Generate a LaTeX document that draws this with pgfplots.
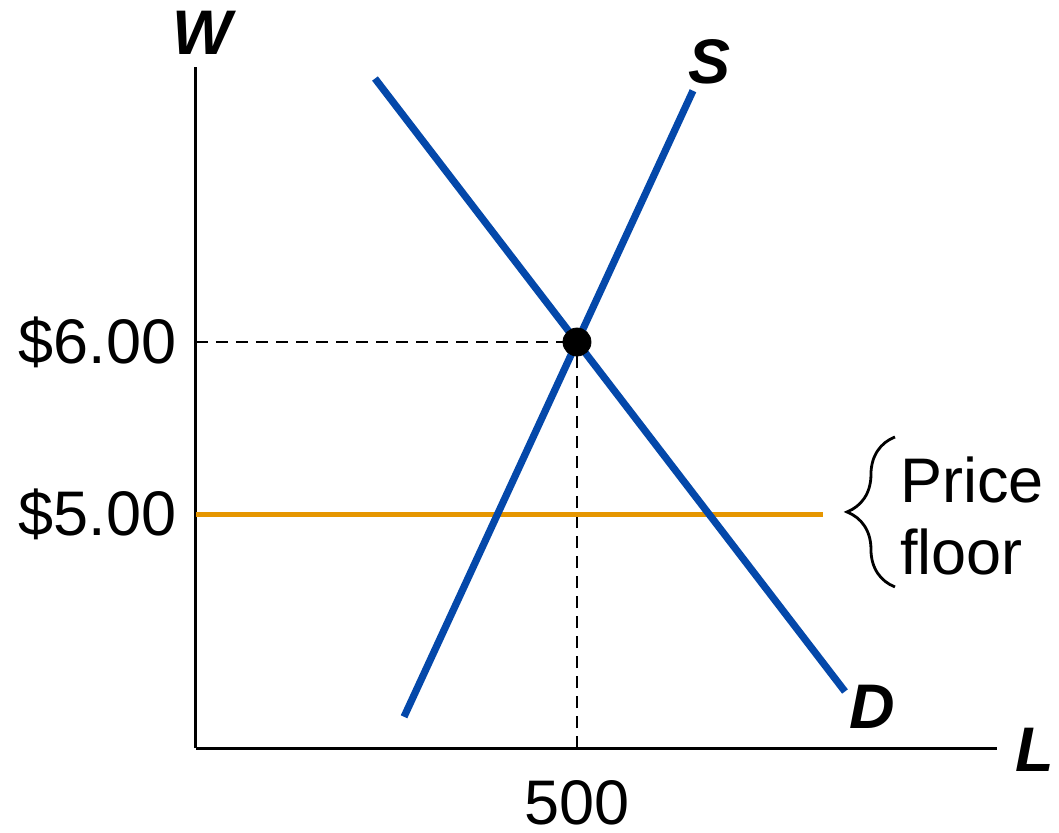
\documentclass[border=0pt]{standalone}
\usepackage{pgfplots}
\pgfplotsset{compat=1.18}
\usepackage{fontspec}
\setmainfont{Liberation Sans}
\usetikzlibrary{decorations.pathreplacing}
\definecolor{curveblue}{RGB}{4,72,170}
\definecolor{floororange}{RGB}{230,150,0}
\begin{document}
\begin{tikzpicture}
\useasboundingbox (-98pt,-42pt) rectangle (431.5pt,374pt);
\begin{axis}[
  scale only axis,
  width=400.5pt, height=340.5pt,
  xmin=0, xmax=1051.2,
  ymin=3.6395, ymax=7.599,
  axis lines=left,
  axis line style={-, line width=1.5pt, black},
  clip=false,
  xtick={500}, xticklabels={500},
  ytick={5,6}, yticklabels={\$5.00,\$6.00},
  major tick length=0pt,
  tick style={draw=none},
  ticklabel style={font=\fontsize{31.5}{37}\selectfont, inner sep=0pt},
  yticklabel style={xshift=-9.5pt},
  xticklabel style={yshift=-16pt},
]
% reference lines at the equilibrium
\addplot[black, line width=1pt, dash pattern=on 6pt off 4pt] coordinates {(0,6) (500,6)};
\addplot[black, line width=1pt, dash pattern=on 6pt off 4pt] coordinates {(500,3.6395) (500,6)};
% price floor
\addplot[floororange, line width=2.5pt] coordinates {(0,5) (822.8,5)};
% demand and supply
\addplot[curveblue, line width=3.6pt] coordinates {(234.9,7.532) (851.7,3.968)};
\addplot[curveblue, line width=3.6pt] coordinates {(273,3.821) (652.2,7.461)};
% equilibrium point
\addplot[only marks, mark=*, mark size=7pt, black] coordinates {(500,6)};
% labels
\node[font=\fontsize{31.5}{37}\selectfont\bfseries\itshape] at (axis cs:674.5,7.628) {S};
\node[font=\fontsize{31.5}{37}\selectfont\bfseries\itshape] at (axis cs:887.1,3.878) {D};
\node[font=\fontsize{31.5}{37}\selectfont\bfseries\itshape] at (axis cs:7.9,7.797) {W};
\node[font=\fontsize{31.5}{37}\selectfont\bfseries\itshape] at (axis cs:1101,3.628) {L};
\draw[line width=1.4pt, decorate, decoration={brace, amplitude=24pt, aspect=0.5}]
  (axis cs:917.3,4.576) -- (axis cs:917.3,5.448);
\node[anchor=west, inner sep=0pt, align=left, font=\fontsize{31.5}{36}\selectfont]
  at (axis cs:923.9,4.988) {Price\\floor};
\end{axis}
\end{tikzpicture}
\end{document}
